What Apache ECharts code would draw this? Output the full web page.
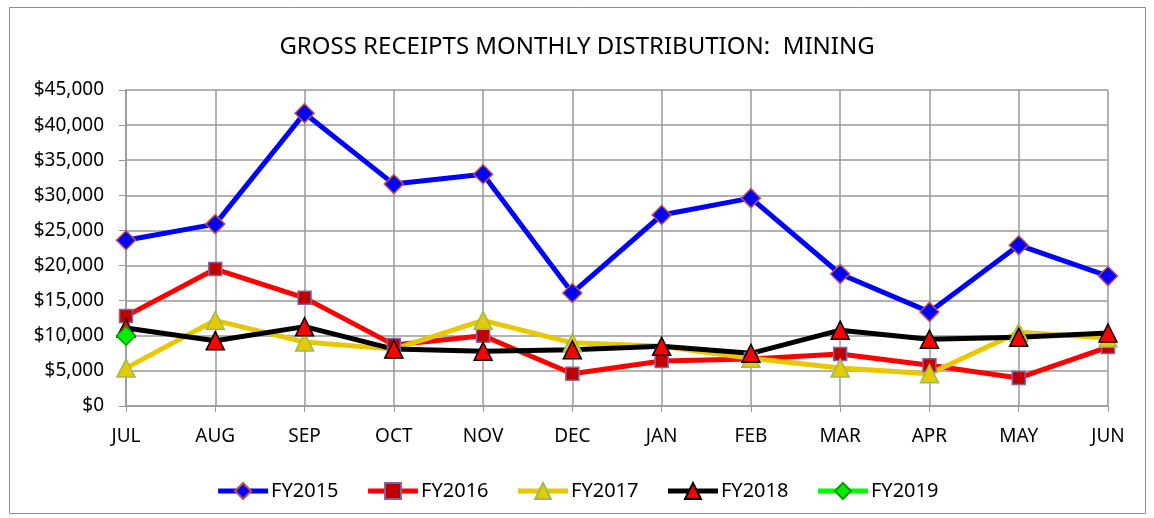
<!DOCTYPE html>
<html>
<head>
<meta charset="utf-8">
<script src="https://cdn.jsdelivr.net/npm/echarts@6/dist/echarts.min.js"></script>
<style>
  html, body { margin: 0; padding: 0; background: #fff; }
  #chart { width: 1154px; height: 518px; }
</style>
</head>
<body>
<div id="chart"></div>
<script>
// 月份（财年从7月开始）
const months = ['JUL', 'AUG', 'SEP', 'OCT', 'NOV', 'DEC', 'JAN', 'FEB', 'MAR', 'APR', 'MAY', 'JUN']

// 各财年数值
const fy2015 = [23600, 25900, 41700, 31600, 33000, 16100, 27200, 29600, 18800, 13400, 22900, 18500]
const fy2016 = [12800, 19500, 15400, 8700, 10000, 4600, 6400, 6700, 7400, 5800, 4000, 8400]
const fy2017 = [5400, 12200, 9100, 8100, 12200, 9000, 8500, 6800, 5400, 4600, 10500, 9700]
const fy2018 = [11100, 9300, 11300, 8100, 7800, 8000, 8500, 7500, 10800, 9500, 9800, 10400]
const fy2019 = [10000]

const font = 'Noto Sans'

const chart = echarts.init(document.getElementById('chart'))

const makeSeries = (name, data, color, symbol, size, fill, border) => ({
  name,
  type: 'line',
  data,
  symbol,
  symbolSize: size,
  showAllSymbol: true,
  lineStyle: { color, width: 5 },
  itemStyle: { color: fill, borderColor: border, borderWidth: 1.5 },
  emphasis: { disabled: true },
  animation: false
})

const option = {
  backgroundColor: '#fff',
  title: {
    text: 'GROSS RECEIPTS MONTHLY DISTRIBUTION:  MINING',
    left: 'center',
    top: 30,
    textStyle: { fontFamily: font, fontSize: 24, fontWeight: 'normal', color: '#000' }
  },
  graphic: [{
    type: 'rect',
    shape: { x: 9.5, y: 7.5, width: 1136, height: 506 },
    style: { fill: 'none', stroke: '#8c8c8c', lineWidth: 1 },
    silent: true
  }],
  legend: {
    bottom: 12,
    left: 'center',
    itemWidth: 50,
    itemHeight: 20,
    itemGap: 27,
    lineStyle: { width: 5 },
    textStyle: { fontFamily: font, fontSize: 20, color: '#000', padding: [0, 0, 0, -2] },
    data: ['FY2015', 'FY2016', 'FY2017', 'FY2018', 'FY2019']
  },
  grid: { left: 126, right: 46, top: 90, bottom: 112 },
  xAxis: {
    type: 'category',
    data: months,
    boundaryGap: false,
    axisLine: { lineStyle: { color: '#999', width: 1.5 } },
    axisTick: { show: true, length: 6, alignWithLabel: true, lineStyle: { color: '#999' } },
    axisLabel: { fontFamily: font, fontSize: 19, color: '#000', margin: 21 },
    splitLine: { show: true, lineStyle: { color: '#999', width: 1.5 } }
  },
  yAxis: {
    type: 'value',
    min: 0,
    max: 45000,
    interval: 5000,
    axisLine: { show: true, lineStyle: { color: '#999', width: 1.5 } },
    axisTick: { show: true, length: 7, lineStyle: { color: '#999' } },
    axisLabel: {
      fontFamily: font, fontSize: 19, color: '#000', margin: 22,
      formatter: v => '$' + v.toLocaleString('en-US')
    },
    splitLine: { lineStyle: { color: '#999', width: 1.5 } }
  },
  series: [
    makeSeries('FY2015', fy2015, '#0000ff', 'diamond', 19, '#0000ff', '#c0504d'),
    makeSeries('FY2016', fy2016, '#ff0000', 'rect', 13, '#c00000', '#8064a2'),
    makeSeries('FY2017', fy2017, '#e8c800', 'triangle', 18, '#e8c800', '#9bbb59'),
    makeSeries('FY2018', fy2018, '#000000', 'triangle', 18, '#ff0000', '#000000'),
    makeSeries('FY2019', fy2019, '#00ff00', 'diamond', 19, '#00ee00', '#00a000')
  ]
}

chart.setOption(option)
</script>
</body>
</html>
